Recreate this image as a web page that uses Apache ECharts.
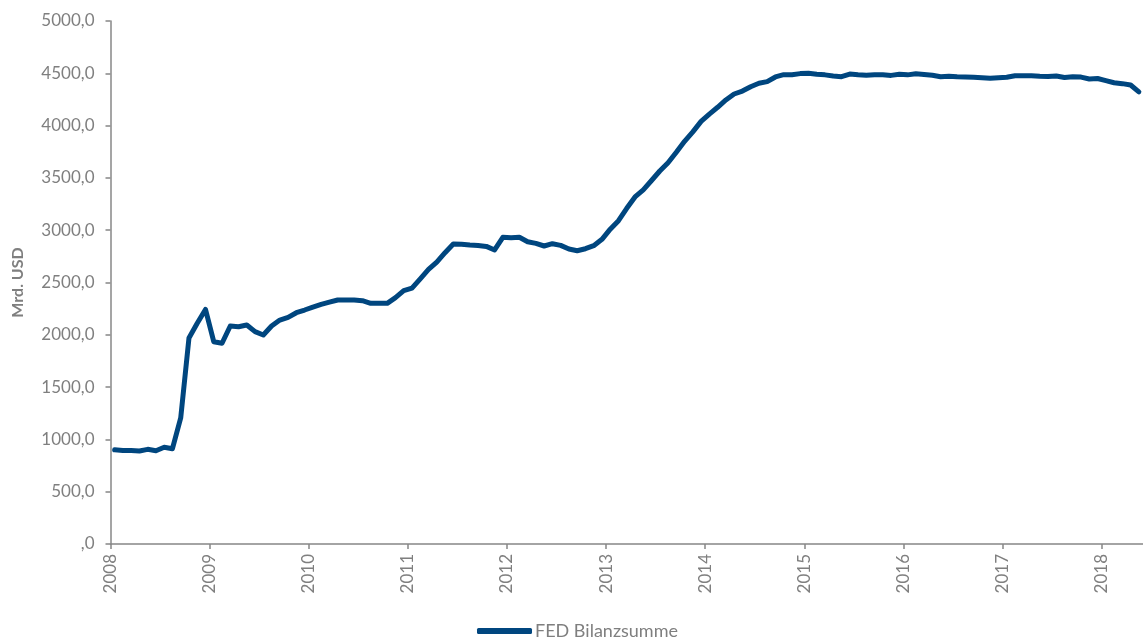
<!DOCTYPE html>
<html>
<head>
<meta charset="utf-8">
<script src="https://cdn.jsdelivr.net/npm/echarts@6/dist/echarts.min.js"></script>
<style>
  html, body { margin: 0; padding: 0; background: #ffffff; }
  #chart { width: 1143px; height: 641px; }
</style>
</head>
<body>
<div id="chart"></div>
<script>
// Monthly categories from Jan 2008 through May 2018
const startYear = 2008;
const monthCount = 125;
const months = [];
for (let i = 0; i < monthCount; i++) {
  const y = startYear + Math.floor(i / 12);
  const m = (i % 12) + 1;
  months.push(y + '-' + (m < 10 ? '0' + m : m));
}

// Year tick labels on the bottom axis
const yearTicks = [2008, 2009, 2010, 2011, 2012, 2013, 2014, 2015, 2016, 2017, 2018];

// FED balance sheet total, billion USD (monthly)
const fedBalance2008 = [900, 895, 893, 889, 905, 892, 925, 911, 1205, 1969, 2110, 2242];
const fedBalance2009 = [1934, 1919, 2084, 2077, 2094, 2030, 1998, 2084, 2141, 2167, 2211, 2237];
const fedBalance2010 = [2265, 2290, 2312, 2333, 2333, 2332, 2326, 2301, 2301, 2301, 2355, 2422];
const fedBalance2011 = [2446, 2535, 2625, 2695, 2785, 2868, 2866, 2858, 2854, 2845, 2811, 2932];
const fedBalance2012 = [2928, 2932, 2889, 2874, 2849, 2871, 2855, 2820, 2804, 2823, 2852, 2913];
const fedBalance2013 = [3010, 3091, 3209, 3318, 3386, 3475, 3566, 3645, 3745, 3850, 3940, 4040];
const fedBalance2014 = [4110, 4175, 4245, 4302, 4330, 4372, 4405, 4420, 4465, 4487, 4487, 4497];
const fedBalance2015 = [4500, 4490, 4485, 4475, 4468, 4493, 4486, 4481, 4485, 4487, 4480, 4490];
const fedBalance2016 = [4485, 4495, 4488, 4481, 4467, 4471, 4467, 4465, 4462, 4458, 4452, 4458];
const fedBalance2017 = [4462, 4477, 4477, 4477, 4472, 4470, 4474, 4460, 4466, 4464, 4446, 4450];
const fedBalance2018 = [4430, 4410, 4401, 4388, 4322];

const fedBalance = [].concat(
  fedBalance2008, fedBalance2009, fedBalance2010, fedBalance2011,
  fedBalance2012, fedBalance2013, fedBalance2014, fedBalance2015,
  fedBalance2016, fedBalance2017, fedBalance2018
);

const seriesName = 'FED Bilanzsumme';
const axisName = 'Mrd. USD';

const lineColor = '#00467f';
const textColor = '#7f7f7f';
const axisColor = '#878787';
const fontFamily = 'Lato, "Noto Sans", sans-serif';

const chart = echarts.init(document.getElementById('chart'), null, { renderer: 'canvas' });

chart.setOption({
  animation: false,
  backgroundColor: '#ffffff',
  textStyle: { fontFamily: fontFamily },
  grid: { left: 110.5, top: 21, width: 1036, height: 523, containLabel: false },
  legend: {
    data: [seriesName],
    left: 477,
    top: 622,
    padding: 0,
    icon: 'roundRect',
    itemWidth: 55,
    itemHeight: 6,
    itemGap: 5,
    textStyle: { color: textColor, fontSize: 18, fontFamily: fontFamily, padding: [0, 0, 0, -2] }
  },
  xAxis: [
    {
      // data axis: one band per month
      type: 'category',
      data: months,
      boundaryGap: true,
      show: false
    },
    {
      // year scale drawn along the bottom
      type: 'value',
      position: 'bottom',
      min: yearTicks[0],
      max: startYear + monthCount / 12,
      interval: 1,
      axisLine: { show: true, onZero: false, lineStyle: { color: axisColor, width: 1.5 } },
      axisTick: { show: true, length: 5, inside: false, lineStyle: { color: axisColor, width: 1.5 } },
      splitLine: { show: false },
      axisLabel: {
        rotate: 90,
        margin: 10,
        color: textColor,
        fontSize: 17,
        fontFamily: fontFamily,
        showMaxLabel: false,
        formatter: function (v) {
          return yearTicks.indexOf(v) >= 0 ? String(v) : '';
        }
      }
    }
  ],
  yAxis: {
    type: 'value',
    min: 0,
    max: 5000,
    interval: 500,
    name: axisName,
    nameLocation: 'middle',
    nameRotate: 90,
    nameGap: 85,
    nameTextStyle: { color: textColor, fontSize: 16, fontWeight: 'bold', fontFamily: fontFamily },
    axisLine: { show: true, lineStyle: { color: axisColor, width: 1.5 } },
    axisTick: { show: true, length: 5, lineStyle: { color: axisColor, width: 1.5 } },
    splitLine: { show: false },
    axisLabel: {
      margin: 16,
      color: textColor,
      fontSize: 17,
      fontFamily: fontFamily,
      formatter: function (v) {
        return v === 0 ? ',0' : v.toFixed(1).replace('.', ',');
      }
    }
  },
  series: [
    {
      name: seriesName,
      type: 'line',
      xAxisIndex: 0,
      data: fedBalance,
      symbol: 'none',
      smooth: false,
      itemStyle: { color: lineColor },
      lineStyle: { color: lineColor, width: 5, cap: 'round', join: 'round' }
    }
  ]
});
</script>
</body>
</html>
